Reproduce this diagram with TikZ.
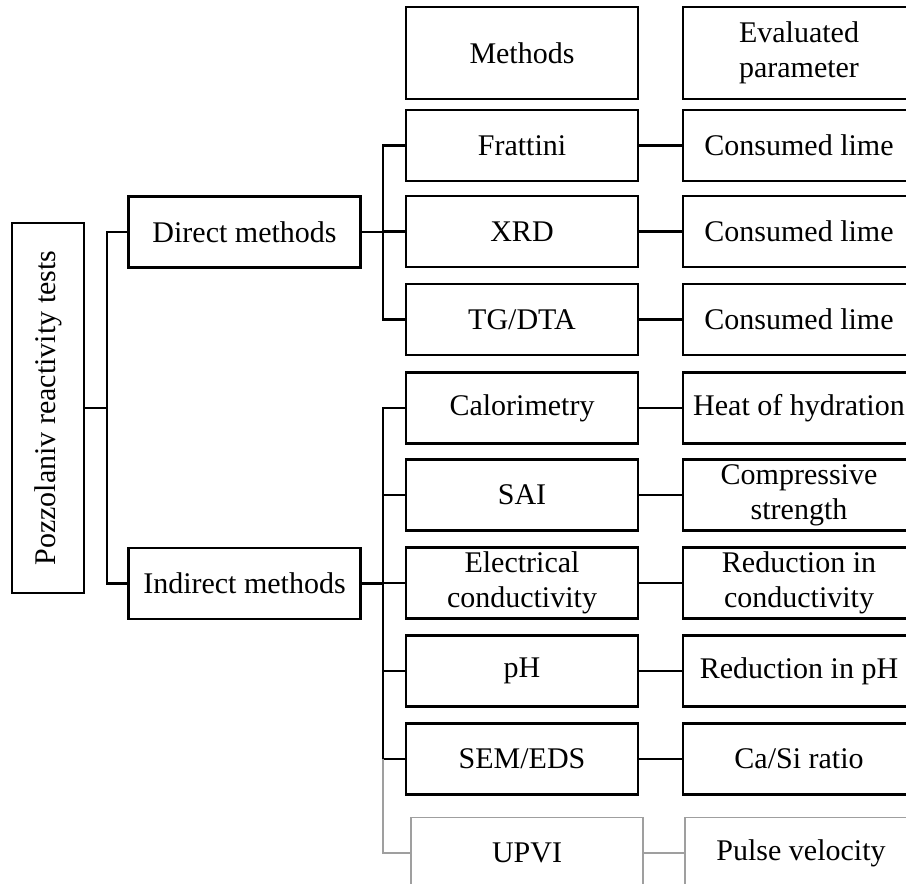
\documentclass[tikz,border=0pt]{standalone}
\usepackage{fontspec}
\setmainfont{Liberation Serif}
\tikzset{
  cell/.style={draw, line width=1.2pt, minimum width=116pt, minimum height=35.5pt,
    inner sep=0pt, align=center, font=\fontsize{15}{17.5}\selectfont},
  faint/.style={draw=gray!75, line width=0.6pt},
  link/.style={line width=1.2pt}
}
\begin{document}
\begin{tikzpicture}[x=0.5pt, y=-0.5pt, line join=miter]
	\def\xm{522} \def\xp{799} % cot giua, cot phai
	\useasboundingbox (0,0) rectangle (906,884);
	\clip (0,0) rectangle (906,884);
	\coordinate (sA) at (107,0);
	\coordinate (sB) at (383,0);
	\node[cell, minimum width=36pt, minimum height=185pt] (root) at (48,408) {};
	\node[rotate=90, font=\fontsize{15}{17.5}\selectfont] (roottext) at (root) {Pozzolaniv reactivity tests};
	\node[cell] (direct) at (244.5,232) {Direct methods};
	\node[cell] (indirect) at (244.5,583.5) {Indirect methods};
	\node[cell, minimum height=46pt] (hmeth) at (\xm,53) {Methods};
	\node[cell, minimum height=46pt] (hpar) at (\xp,53) {Evaluated\\parameter};
	\foreach \n/\y/\m/\p in {fra/145.5/Frattini/Consumed lime, xrd/231.5/XRD/Consumed lime,
	    tg/319.5/{TG/DTA}/Consumed lime, cal/408/Calorimetry/Heat of hydration,
	    sai/495/SAI/{Compressive\\strength}, elec/583/{Electrical\\conductivity}/{Reduction in\\conductivity},
	    ph/671/pH/Reduction in pH, sem/759/{SEM/EDS}/{Ca/Si ratio}}{
		\node[cell] (m\n) at (\xm,\y) {\m};
		\node[cell] (p\n) at (\xp,\y) {\p};
		\draw[link] (m\n.east) -- (p\n.west);
	}
	\node[cell, faint] (mupvi) at (527,853) {UPVI};
	\node[cell, faint] (pupvi) at (801,853) {Pulse velocity};
	\draw[faint] (mupvi.east) -- (pupvi.west);
	% rami
	\draw[link] (root.east) -- (root.east -| sA);
	\draw[link] (direct.west) -- (direct.west -| sA) -- (indirect.west -| sA) -- (indirect.west);
	\draw[link] (direct.east) -- (direct.east -| sB);
	\draw[link] (mfra.west) -- (mfra.west -| sB) -- (mtg.west -| sB) -- (mtg.west);
	\draw[link] (mxrd.west) -- (mxrd.west -| sB);
	\draw[link] (indirect.east) -- (indirect.east -| sB);
	\draw[link] (mcal.west) -- (mcal.west -| sB) -- (msem.west -| sB) -- (msem.west);
	\foreach \n in {sai,elec,ph}
		\draw[link] (m\n.west) -- (m\n.west -| sB);
	\draw[faint] (msem.west -| sB) -- (mupvi.west -| sB) -- (mupvi.west);
\end{tikzpicture}
\end{document}
